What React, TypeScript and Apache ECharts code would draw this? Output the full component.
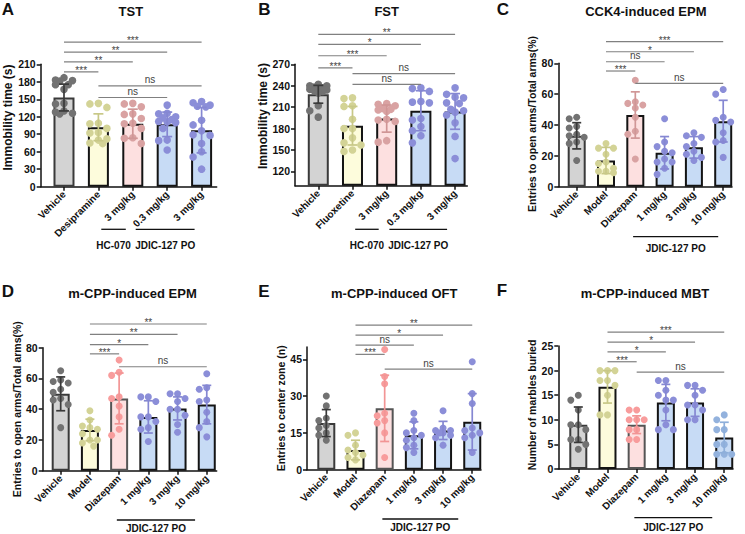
import React, { useEffect, useRef } from 'react';
import * as echarts from 'echarts';

const FONT = 'Liberation Sans, Arial, Helvetica, sans-serif';

/* ---------- A · TST ---------- */
const tstCategories = ['Vehicle', 'Desipramine', '3 mg/kg', '0.3 mg/kg', '3 mg/kg'];
const tstMeans = [153, 102, 108, 107, 97];
const tstSD = [23, 23, 25, 21, 39];
const tstPoints = [
  [187, 183, 182, 181, 175, 175, 167, 143, 142, 130, 128, 126, 125],
  [143, 142, 136, 109, 108, 100, 93, 92, 82, 80, 75, 74],
  [143, 142, 137, 125, 124, 117, 109, 108, 100, 84, 83, 74],
  [140, 126, 125, 120, 118, 115, 112, 111, 110, 100, 80, 79, 63],
  [146, 144, 140, 138, 137, 114, 106, 96, 89, 88, 74, 60, 51, 30],
];
const tstYTicks = [0, 30, 60, 90, 120, 150, 180, 210];
const tstBrackets = [[0, 1, 197, '***'], [0, 2, 214, '**'], [0, 3, 231, '**'], [0, 4, 248, '***'], [1, 3, 153, 'ns'], [1, 4, 173, 'ns']];
const tstGroups = [['HC-070', 2, 2], ['JDIC-127 PO', 3, 4]];

/* ---------- B · FST ---------- */
const fstCategories = ['Vehicle', 'Fluoxetine', '3 mg/kg', '0.3 mg/kg', '3 mg/kg'];
const fstMeans = [228, 184, 194, 205, 204];
const fstSD = [12.5, 27, 19, 28, 25];
const fstPoints = [
  [242, 240, 240, 238, 237, 236, 235, 234, 233, 232, 230, 212, 205, 196],
  [223, 222, 212, 211, 193, 180, 180, 167, 160, 157, 150, 148],
  [215, 214, 212, 208, 207, 206, 204, 193, 192, 190, 163, 161],
  [237, 236, 232, 218, 217, 216, 194, 192, 183, 177, 170, 160],
  [237, 228, 224, 223, 216, 215, 207, 205, 203, 199, 188, 169, 138],
];
const fstYTicks = [120, 150, 180, 210, 240, 270];
const fstBrackets = [[0, 1, 265, '***'], [0, 2, 282, '***'], [0, 3, 298, '*'], [0, 4, 312, '**'], [1, 3, 242, 'ns'], [1, 4, 257, 'ns']];
const fstGroups = [['HC-070', 2, 2], ['JDIC-127 PO', 3, 4]];

/* ---------- C · CCK4-induced EPM ---------- */
const cckCategories = ['Vehicle', 'Model', 'Diazepam', '1 mg/kg', '3 mg/kg', '10 mg/kg'];
const cckMeans = [33, 17, 46.5, 22, 25.5, 42.5];
const cckSD = [8.5, 8.5, 15, 10.5, 7, 13.5];
const cckPoints = [
  [45, 44, 39, 38, 34, 33, 32, 29, 28, 17],
  [28, 25, 25, 21, 16, 15, 12, 10, 10, 9],
  [69, 55, 54, 53, 51, 45, 36, 34, 18],
  [44, 29, 26, 23, 22, 18, 16, 16, 12, 8],
  [35, 33, 32, 28, 26, 23, 21, 19, 17],
  [63, 60, 45, 43, 42, 35, 30, 29, 19],
];
const cckYTicks = [0, 20, 40, 60, 80];
const cckBrackets = [[1, 2, 75, '***'], [1, 3, 81, 'ns'], [1, 4, 87.5, '*'], [1, 5, 94, '***'], [2, 5, 67, 'ns']];
const cckGroups = [['JDIC-127 PO', 3, 5]];

/* ---------- D · m-CPP-induced EPM ---------- */
const epmCategories = ['Vehicle', 'Model', 'Diazepam', '1 mg/kg', '3 mg/kg', '10 mg/kg'];
const epmMeans = [50, 26.5, 47, 35, 40.5, 43];
const epmSD = [11, 7, 16.5, 10.5, 7.5, 12.5];
const epmPoints = [
  [65, 59, 58, 57, 53, 51, 47, 46, 43, 28],
  [39, 33, 29, 28, 27, 24, 20, 20, 18, 16],
  [72, 64, 62, 48, 47, 42, 35, 27, 23],
  [48, 48, 45, 35, 35, 32, 28, 27, 19],
  [50, 50, 47, 45, 40, 40, 36, 30, 25],
  [63, 54, 53, 46, 45, 38, 32, 28, 22],
];
const epmYTicks = [0, 20, 40, 60, 80];
const epmBrackets = [[1, 2, 76, '***'], [1, 3, 82, '*'], [1, 4, 88.7, '**'], [1, 5, 95.4, '**'], [2, 5, 67.6, 'ns']];
const epmGroups = [['JDIC-127 PO', 3, 5]];

/* ---------- E · m-CPP-induced OFT ---------- */
const oftCategories = ['Vehicle', 'Model', 'Diazepam', '1 mg/kg', '3 mg/kg', '10 mg/kg'];
const oftMeans = [19, 8, 25, 14, 16, 19.5];
const oftSD = [5.5, 4, 13.5, 5.5, 3.7, 11.5];
const oftPoints = [
  [30, 26, 21, 20, 18, 17, 15, 14, 12],
  [15, 14, 10, 8, 7, 6, 5, 4],
  [49, 38, 35, 23, 22, 20, 19, 15, 5],
  [23, 20, 16, 15, 14, 13, 12, 10, 9, 7],
  [24, 17, 16, 16, 15, 15, 14, 13, 10],
  [44, 31, 27, 17, 16, 15, 14, 13, 7],
];
const oftYTicks = [0, 15, 30, 45];
const oftBrackets = [[1, 2, 47, '***'], [1, 3, 50.8, 'ns'], [1, 4, 54.8, '*'], [1, 5, 58.9, '**'], [2, 5, 41, 'ns']];
const oftGroups = [['JDIC-127 PO', 3, 5]];

/* ---------- F · m-CPP-induced MBT ---------- */
const mbtCategories = ['Vehicle', 'Model', 'Diazepam', '1 mg/kg', '3 mg/kg', '10 mg/kg'];
const mbtMeans = [9, 16.7, 9, 13.5, 13.5, 6.4];
const mbtSD = [3.6, 3.3, 1.8, 3.7, 2.8, 3.1];
const mbtPoints = [
  [15, 14, 12, 9, 9, 8, 6, 6, 5, 4],
  [20, 20, 20, 18, 18, 17, 15, 11, 11],
  [12, 12, 10, 10, 10, 8, 8, 6, 6],
  [18, 18, 16, 15, 14, 14, 12, 9, 8, 8],
  [17, 17, 16, 15, 13, 13, 12, 10, 10],
  [11, 10, 8, 8, 5, 5, 3, 3, 3],
];
const mbtYTicks = [0, 5, 10, 15, 20, 25];
const mbtBrackets = [[1, 2, 21.8, '***'], [1, 3, 23.8, '*'], [1, 4, 25.8, '*'], [1, 5, 27.8, '***'], [2, 5, 19.7, 'ns']];
const mbtGroups = [['JDIC-127 PO', 3, 5]];

/* ---------- styles ---------- */
const KIND: any = {
  veh: { fill: '#d3d3d3', border: '#3a3a3a', dot: '#727272', err: '#3a3a3a' },
  ctl: { fill: '#fdfcdc', border: '#141414', dot: '#d3d396', err: '#c8c887' },
  hc: { fill: '#fde0e0', border: '#141414', dot: '#d9a2a2', err: '#d09696' },
  dz: { fill: '#fde0e0', border: '#555555', dot: '#f89c9c', err: '#f29595' },
  jd: { fill: '#c7dbf5', border: '#141414', dot: '#8b8ed8', err: '#8587d2' },
  jd2: { fill: '#c7dbf5', border: '#141414', dot: '#93b2dd', err: '#8eafda' },
};

const PANELS: any[] = [
  {
    letter: 'A', title: 'TST', yName: 'Immobility time (s)', cats: tstCategories, means: tstMeans, sd: tstSD, pts: tstPoints,
    yTicks: tstYTicks, yMin: 0, yMax: 210, brackets: tstBrackets, groups: tstGroups, kinds: ['veh', 'ctl', 'hc', 'jd', 'jd'],
    L: { grid: [40.7, 64.3, 176, 122.4], xMin: -0.677, xMax: 4.439, bw: 21, r: 3.8, step: 8.5, cap: 5, nameGap: 23, nameSize: 12, nameShift: 16, gLine: 42.6, gText: 58.3, gEnd: -7, title: [130.8, 11], letter: [1.7, 9.5] },
  },
  {
    letter: 'B', title: 'FST', yName: 'Immobility time (s)', cats: fstCategories, means: fstMeans, sd: fstSD, pts: fstPoints,
    yTicks: fstYTicks, yMin: 100, yMax: 270, brackets: fstBrackets, groups: fstGroups, kinds: ['veh', 'ctl', 'hc', 'jd', 'jd'],
    L: { grid: [295, 64.3, 172.3, 121.4], xMin: -0.681, xMax: 4.357, bw: 21, r: 3.8, step: 8.5, cap: 5, nameGap: 26, nameSize: 12, nameShift: 18, gLine: 43.6, gText: 59.3, gEnd: -8, title: [386.7, 11], letter: [258.3, 9] },
  },
  {
    letter: 'C', title: 'CCK4-induced EPM', yName: 'Entries to open arms/Total arms(%)', cats: cckCategories, means: cckMeans, sd: cckSD, pts: cckPoints,
    yTicks: cckYTicks, yMin: 0, yMax: 80, brackets: cckBrackets, groups: cckGroups, kinds: ['veh', 'ctl', 'hc', 'jd', 'jd', 'jd'],
    L: { grid: [558.3, 63.3, 173.7, 123.4], xMin: -0.628, xMax: 5.3, bw: 18, r: 3.5, step: 7.5, cap: 4.5, nameGap: 20, nameSize: 10.5, nameShift: 2, gLine: 50, gText: 61.6, gEnd: -5, title: [645.8, 11], letter: [496.7, 9] },
  },
  {
    letter: 'D', title: 'm-CPP-induced EPM', yName: 'Entries to open arms/Total arms(%)', cats: epmCategories, means: epmMeans, sd: epmSD, pts: epmPoints,
    yTicks: epmYTicks, yMin: 0, yMax: 80, brackets: epmBrackets, groups: epmGroups, kinds: ['veh', 'ctl', 'dz', 'jd', 'jd', 'jd'],
    L: { grid: [42.7, 347.7, 174, 123], xMin: -0.616, xMax: 5.34, bw: 18, r: 3.5, step: 7.5, cap: 4.5, nameGap: 19, nameSize: 10.5, nameShift: 0, gLine: 49.3, gText: 57.6, gEnd: -11.7, title: [132.5, 293.3], letter: [1.7, 291.7] },
  },
  {
    letter: 'E', title: 'm-CPP-induced OFT', yName: 'Entries to center zone (n)', cats: oftCategories, means: oftMeans, sd: oftSD, pts: oftPoints,
    yTicks: oftYTicks, yMin: 0, yMax: 50, brackets: oftBrackets, groups: oftGroups, kinds: ['veh', 'ctl', 'dz', 'jd', 'jd', 'jd'],
    L: { grid: [307, 347, 174, 122.7], xMin: -0.661, xMax: 5.3, bw: 18, r: 3.5, step: 7.5, cap: 4.5, nameGap: 20, nameSize: 10.5, nameShift: 0, gLine: 49.3, gText: 58, gEnd: -14, title: [394.2, 293], letter: [258.3, 291] },
  },
  {
    letter: 'F', title: 'm-CPP-induced MBT', yName: 'Number of marbles buried', cats: mbtCategories, means: mbtMeans, sd: mbtSD, pts: mbtPoints,
    yTicks: mbtYTicks, yMin: 0, yMax: 25, brackets: mbtBrackets, groups: mbtGroups, kinds: ['veh', 'ctl', 'dz', 'jd', 'jd', 'jd2'],
    L: { grid: [558.3, 346, 174.7, 123], xMin: -0.685, xMax: 5.3, bw: 18, r: 3.5, step: 7.5, cap: 4.5, nameGap: 20, nameSize: 10.5, nameShift: 5, gLine: 48.7, gText: 58.5, gEnd: -12, title: [645, 293.3], letter: [496.7, 290] },
  },
];

// beeswarm-like horizontal spreading of dots, in pixels
function swarm(ys: number[], minDist: number, step: number): number[] {
  const n = ys.length;
  const order = ys.map((_, i) => i).sort((a, b) => ys[a] - ys[b] || a - b);
  const cands = [0, -step, step, -step / 2, step / 2];
  const placed: number[][] = [];
  const dx = new Array(n).fill(0);
  for (const i of order) {
    let best = 0;
    let bestD = -1;
    for (const off of cands) {
      let md = Infinity;
      for (const q of placed) {
        const d = Math.hypot(q[0] - off, q[1] - ys[i]);
        if (d < md) md = d;
      }
      if (md >= minDist) { best = off; bestD = md; break; }
      if (md > bestD) { bestD = md; best = off; }
    }
    dx[i] = best;
    placed.push([best, ys[i]]);
  }
  return dx;
}

function txt(text: string, x: number, y: number, size: number, weight: string, align: string, vAlign: string, fill = '#111') {
  return {
    type: 'text', x, y,
    style: {
      text, fill, fontSize: size, fontWeight: weight, fontFamily: FONT,
      align, verticalAlign: vAlign, textAlign: align, textVerticalAlign: vAlign,
    },
  };
}

function buildOption() {
  const grid: any[] = [];
  const xAxis: any[] = [];
  const yAxis: any[] = [];
  const series: any[] = [];
  const graphic: any[] = [];

  PANELS.forEach((p, k) => {
    const L = p.L;
    const idx = p.cats.map((_: string, i: number) => i);
    grid.push({ left: L.grid[0], top: L.grid[1], width: L.grid[2], height: L.grid[3] });
    xAxis.push({
      type: 'value', gridIndex: k, min: L.xMin, max: L.xMax,
      splitLine: { show: false },
      axisLine: { show: true, onZero: false, lineStyle: { color: '#111', width: 1.5 } },
      axisTick: { show: true, customValues: idx, length: 4, lineStyle: { color: '#111', width: 1.5 } },
      axisLabel: {
        customValues: idx, rotate: 45, margin: 6, fontSize: 10, fontWeight: 'bold', color: '#111', fontFamily: FONT,
        formatter: (v: number) => p.cats[Math.round(v)] ?? '',
      },
    });
    yAxis.push({
      type: 'value', gridIndex: k, min: p.yMin, max: p.yMax, startValue: p.yMin,
      name: p.yName, nameLocation: 'middle', nameGap: L.nameGap,
      nameTextStyle: { fontSize: L.nameSize, fontWeight: 'bold', color: '#111', fontFamily: FONT, padding: [0, 0, 0, L.nameShift] },
      splitLine: { show: false },
      axisLine: { show: true, onZero: false, lineStyle: { color: '#111', width: 1.5 } },
      axisTick: { show: true, customValues: p.yTicks, length: 4, lineStyle: { color: '#111', width: 1.5 } },
      axisLabel: { customValues: p.yTicks, margin: 5, fontSize: 10.5, fontWeight: 'bold', color: '#111', fontFamily: FONT },
    });

    // bars (means)
    series.push({
      type: 'bar', xAxisIndex: k, yAxisIndex: k, barWidth: L.bw, z: 2, silent: true,
      data: p.means.map((m: number, i: number) => ({
        value: [i, m],
        itemStyle: { color: KIND[p.kinds[i]].fill, borderColor: KIND[p.kinds[i]].border, borderWidth: 2 },
      })),
    });

    // individual points
    const flat: number[][] = [];
    const meta: number[][] = [];
    p.pts.forEach((arr: number[], g: number) => arr.forEach((v, j) => { flat.push([g, v]); meta.push([g, j]); }));
    series.push({
      type: 'custom', xAxisIndex: k, yAxisIndex: k, z: 3, silent: true, clip: false,
      data: flat,
      renderItem: (params: any, api: any) => {
        const [g, j] = meta[params.dataIndex];
        const arr = p.pts[g];
        const ys = arr.map((v: number) => api.coord([g, v])[1]);
        const dx = swarm(ys, L.r * 2 * 0.95, L.step);
        const c = api.coord([g, arr[j]]);
        return { type: 'circle', shape: { cx: c[0] + dx[j], cy: c[1], r: L.r }, style: { fill: KIND[p.kinds[g]].dot } };
      },
    });

    // error bars (mean ± SD)
    series.push({
      type: 'custom', xAxisIndex: k, yAxisIndex: k, z: 4, silent: true, clip: false,
      data: p.means.map((m: number, i: number) => [i, m, p.sd[i]]),
      renderItem: (params: any, api: any) => {
        const i = params.dataIndex;
        const m = p.means[i];
        const s = p.sd[i];
        const t = api.coord([i, m + s]);
        const b = api.coord([i, m - s]);
        const st = { stroke: KIND[p.kinds[i]].err, lineWidth: 1.7 };
        return {
          type: 'group', children: [
            { type: 'line', shape: { x1: t[0], y1: t[1], x2: b[0], y2: b[1] }, style: st },
            { type: 'line', shape: { x1: t[0] - L.cap, y1: t[1], x2: t[0] + L.cap, y2: t[1] }, style: st },
            { type: 'line', shape: { x1: b[0] - L.cap, y1: b[1], x2: b[0] + L.cap, y2: b[1] }, style: st },
          ],
        };
      },
    });

    // significance brackets
    series.push({
      type: 'custom', xAxisIndex: k, yAxisIndex: k, z: 5, silent: true, clip: false,
      data: p.brackets.map((b: any[]) => [b[0], b[2]]),
      renderItem: (params: any, api: any) => {
        const b = p.brackets[params.dataIndex];
        const a = api.coord([b[0], b[2]]);
        const e = api.coord([b[1], b[2]]);
        const star = b[3] !== 'ns';
        return {
          type: 'group', children: [
            { type: 'line', shape: { x1: a[0], y1: a[1], x2: e[0], y2: a[1] }, style: { stroke: '#808080', lineWidth: 1.2 } },
            txt(b[3], (a[0] + e[0]) / 2, star ? a[1] - 1.5 : a[1] - 1, 10, 'normal', 'center', star ? 'middle' : 'bottom', '#444'),
          ],
        };
      },
    });

    // treatment group labels under the axis
    series.push({
      type: 'custom', xAxisIndex: k, yAxisIndex: k, z: 5, silent: true, clip: false,
      data: p.groups.map((g: any[]) => [g[1], p.yMin]),
      renderItem: (params: any, api: any) => {
        const gr = p.groups[params.dataIndex];
        const a = api.coord([gr[1], p.yMin]);
        const e = api.coord([gr[2], p.yMin]);
        const x1 = a[0] - 31.5;
        const x2 = e[0] + L.gEnd;
        return {
          type: 'group', children: [
            { type: 'line', shape: { x1, y1: a[1] + L.gLine, x2, y2: a[1] + L.gLine }, style: { stroke: '#111', lineWidth: 1.3 } },
            txt(gr[0], (x1 + x2) / 2, a[1] + L.gText, 10, 'bold', 'center', 'middle'),
          ],
        };
      },
    });

    graphic.push(txt(p.title, L.title[0], L.title[1], 13, 'bold', 'center', 'middle'));
    graphic.push(txt(p.letter, L.letter[0], L.letter[1], 17, 'bold', 'left', 'middle'));
  });

  return { animation: false, backgroundColor: '#ffffff', grid, xAxis, yAxis, series, graphic };
}

export default function App() {
  const ref = useRef<HTMLDivElement>(null);
  useEffect(() => {
    if (!ref.current) return;
    const chart = echarts.init(ref.current, undefined, { renderer: 'svg' });
    chart.setOption(buildOption() as any);
    return () => chart.dispose();
  }, []);
  return <div ref={ref} style={{ position: 'fixed', left: 0, top: 0, width: 745, height: 534, background: '#fff' }} />;
}
